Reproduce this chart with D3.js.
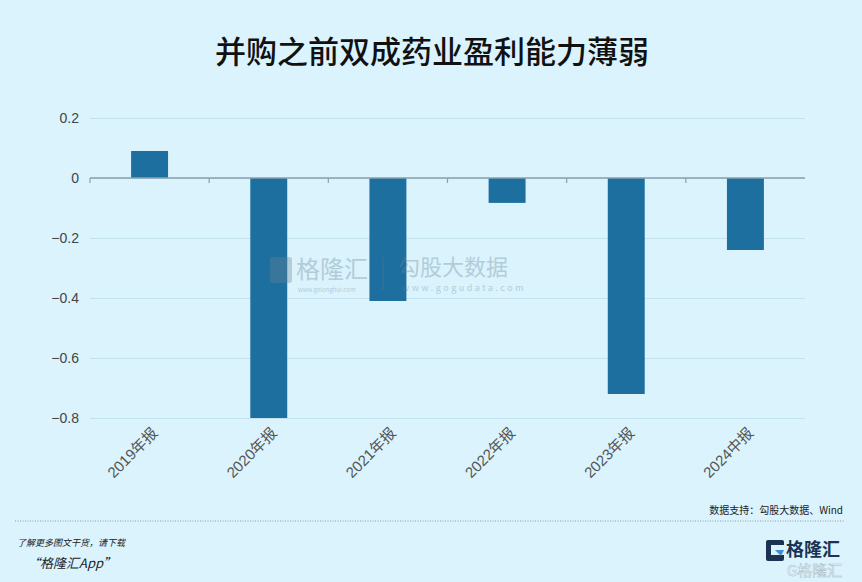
<!DOCTYPE html>
<html><head><meta charset="utf-8">
<script src="https://cdn.jsdelivr.net/npm/d3@7"></script>
<style>
html,body{margin:0;padding:0;background:#daf3fd;}
svg{display:block;font-family:"Noto Sans CJK SC","Noto Sans",sans-serif;}
</style></head><body>
<svg id="c" width="862" height="582"></svg>
<script>
const categories = ["2019年报","2020年报","2021年报","2022年报","2023年报","2024中报"];
const values = [0.09,-0.80,-0.41,-0.083,-0.72,-0.24];
const yTicks = [0.2,0,-0.2,-0.4,-0.6,-0.8];
const title = "并购之前双成药业盈利能力薄弱";
const source = "数据支持：勾股大数据、Wind";

const svg = d3.select("#c");
svg.append("rect").attr("width",862).attr("height",582).attr("fill","#daf3fd");

const x = d3.scaleBand().domain(categories).range([90,805]).paddingInner(0.69).paddingOuter(0.345);
const y = d3.scaleLinear().domain([-0.8,0.2]).range([418,118]);

// title
svg.append("text").attr("x",432).attr("y",63).attr("text-anchor","middle")
  .attr("font-size",31).attr("font-weight",500).attr("fill","#111").text(title);

// grid
const yAxis = d3.axisLeft(y).tickValues(yTicks).tickSize(-715).tickPadding(10)
  .tickFormat(d => d===0 ? "0" : d3.format(".1f")(d));
const gy = svg.append("g").attr("transform","translate(90,0)").call(yAxis);
gy.select(".domain").remove();
gy.selectAll(".tick line").attr("stroke","#c2e2f0").attr("stroke-width",1.2);
gy.selectAll(".tick text").attr("font-size",14).attr("fill","#444")
  .attr("font-family","Liberation Sans, Arial, sans-serif").attr("x",-11);

// bars
svg.append("g").selectAll("rect").data(values).join("rect")
  .attr("x",(d,i)=>x(categories[i]))
  .attr("width",x.bandwidth())
  .attr("y",d=>y(Math.max(0,d)))
  .attr("height",d=>Math.abs(y(d)-y(0)))
  .attr("fill","#1d6fa0");

// zero axis with ticks at band boundaries
const bounds = categories.map(c => x(c) - x.step()*x.paddingInner()/2);
const z = svg.append("g");
z.append("line").attr("x1",90).attr("x2",805).attr("y1",y(0)).attr("y2",y(0))
  .attr("stroke","#8aa0ab").attr("stroke-width",1.5);
z.selectAll("line.t").data(bounds).join("line").attr("class","t")
  .attr("x1",d=>d).attr("x2",d=>d).attr("y1",y(0)).attr("y2",y(0)+5)
  .attr("stroke","#8aa0ab").attr("stroke-width",1.2);

// x labels
const xAxis = d3.axisBottom(x).tickSize(0).tickPadding(0);
const gx = svg.append("g").attr("transform","translate(0,418)").call(xAxis);
gx.select(".domain").remove();
gx.selectAll(".tick text")
  .attr("font-size",15).attr("fill","#555").attr("text-anchor","end")
  .attr("font-family","Liberation Sans, Noto Sans CJK SC, sans-serif")
  .attr("dy",0).attr("transform","translate(9,16) rotate(-45)");

// watermark
const wm = svg.append("g").attr("opacity",0.35);
wm.append("rect").attr("x",270).attr("y",257).attr("width",22).attr("height",26).attr("rx",3).attr("fill","#6a8595");
wm.append("text").attr("x",296).attr("y",278).attr("font-size",24).attr("fill","#6a8595").text("格隆汇");
wm.append("text").attr("x",298).attr("y",292).attr("font-size",6).attr("fill","#6a8595").text("www.gelonghui.com");
wm.append("line").attr("x1",383).attr("x2",383).attr("y1",257).attr("y2",290).attr("stroke","#6a8595");
wm.append("text").attr("x",398).attr("y",275).attr("font-size",22).attr("fill","#6a8595").text("勾股大数据");
wm.append("text").attr("x",402).attr("y",291).attr("font-size",9).attr("fill","#6a8595").attr("letter-spacing",2.5).text("www.gogudata.com");

// source
svg.append("text").attr("x",843).attr("y",514).attr("text-anchor","end")
  .attr("font-size",10).attr("fill","#222").text(source);
svg.append("line").attr("x1",15).attr("x2",845).attr("y1",521).attr("y2",521)
  .attr("stroke","#999").attr("stroke-dasharray","1,1.5");

// footer
svg.append("text").attr("x",17).attr("y",546).attr("font-size",9).attr("font-style","italic")
  .attr("fill","#222").text("了解更多图文干货，请下载");
svg.append("text").attr("x",27).attr("y",568).attr("font-size",13).attr("font-style","italic")
  .attr("fill","#222").text("“格隆汇App”");

// logo
const lg = svg.append("g");
lg.append("rect").attr("x",766).attr("y",540).attr("width",18).attr("height",21).attr("rx",2).attr("fill","#1a3350");
lg.append("rect").attr("x",771).attr("y",545).attr("width",13).attr("height",10).attr("fill","#daf3fd");
lg.append("path").attr("d","M775,550 L784,550 L781,556 Z").attr("fill","#3d8fd0");
lg.append("text").attr("x",786).attr("y",556).attr("font-size",18).attr("font-weight",700).attr("fill","#1a3350").text("格隆汇");
lg.append("text").attr("x",787).attr("y",576).attr("font-size",15).attr("fill","#f4fbff").attr("stroke","#a9bdc8").attr("stroke-width",0.5).text("G格隆汇");
</script></body></html>
